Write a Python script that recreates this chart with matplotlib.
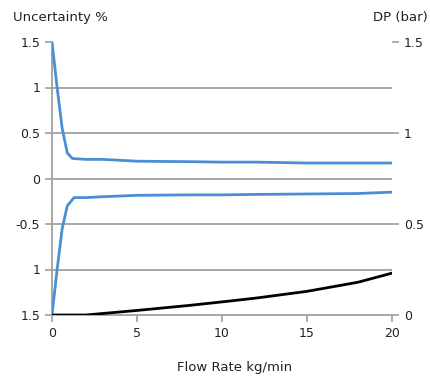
import matplotlib
matplotlib.use("Agg")
import matplotlib.pyplot as plt

# Data
flow_upper = [0, 0.3, 0.6, 0.9, 1.2, 2, 3, 5, 8, 10, 12, 15, 18, 20]
unc_upper = [1.5, 1.0, 0.55, 0.28, 0.22, 0.21, 0.21, 0.19, 0.185, 0.18, 0.18, 0.17, 0.17, 0.17]
flow_lower = [0, 0.3, 0.6, 0.9, 1.3, 2, 3, 5, 8, 10, 12, 15, 18, 20]
unc_lower = [-1.5, -1.0, -0.55, -0.3, -0.21, -0.21, -0.2, -0.185, -0.18, -0.18, -0.175, -0.17, -0.165, -0.15]
flow_dp = [0, 2, 5, 8, 10, 12, 15, 18, 20]
dp = [0, 0.0, 0.025, 0.052, 0.072, 0.093, 0.13, 0.18, 0.23]

left_ticks = [-1.5, -1, -0.5, 0, 0.5, 1, 1.5]
left_labels = ["1.5", "1", "-0.5", "0", "0.5", "1", "1.5"]
right_ticks = [0, 0.5, 1, 1.5]
right_labels = ["0", "0.5", "1", "1.5"]
x_ticks = [0, 5, 10, 15, 20]

fig = plt.figure(figsize=(4.31, 3.76), dpi=100)
ax = fig.add_axes([52/431, 1-315/376, 340/431, 273/376])
grid_c = "#a0a0a0"
for y in left_ticks[1:-1]:
    ax.axhline(y, color=grid_c, lw=1.3, zorder=1)
ax.plot(flow_upper, unc_upper, color="#4a8fd6", lw=2, zorder=3)
ax.plot(flow_lower, unc_lower, color="#4a8fd6", lw=2, zorder=3)
ax.set_xlim(0, 20)
ax.set_ylim(-1.5, 1.5)
ax.set_yticks(left_ticks)
ax.set_yticklabels(left_labels)
ax.set_xticks(x_ticks)
for s in ["top", "right"]:
    ax.spines[s].set_visible(False)
ax.spines["left"].set_color(grid_c)
ax.spines["bottom"].set_color(grid_c)
ax.spines["left"].set_linewidth(1.3)
ax.spines["bottom"].set_linewidth(1.3)
ax.tick_params(axis="both", colors=grid_c, labelcolor="#222222", labelsize=9, length=5, width=1.2)

ax2 = ax.twinx()
ax2.plot(flow_dp, dp, color="black", lw=2, zorder=3)
ax2.set_ylim(0, 1.5)
ax2.set_yticks(right_ticks)
ax2.set_yticklabels(right_labels)
for s in ["top", "right", "left", "bottom"]:
    ax2.spines[s].set_visible(False)
ax2.tick_params(axis="y", colors=grid_c, labelcolor="#222222", labelsize=9, length=5, width=1.2)

fig.text(13/431, 1-17/376, "Uncertainty %", fontsize=9.5, va="center", ha="left", color="#222222")
fig.text(428/431, 1-17/376, "DP (bar)", fontsize=9.5, va="center", ha="right", color="#222222")
fig.text(235/431, 1-367/376, "Flow Rate kg/min", fontsize=9.5, va="center", ha="center", color="#222222")

fig.savefig("out.png", dpi=100)
